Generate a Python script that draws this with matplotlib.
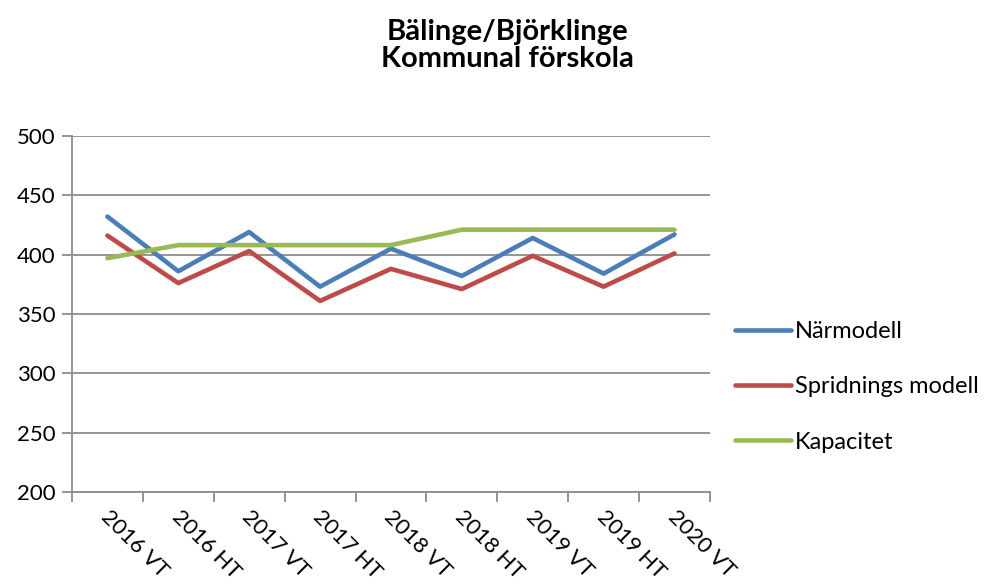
import matplotlib.pyplot as plt
import numpy as np

plt.rcParams['font.family'] = ['Lato', 'DejaVu Sans']

# data
terminer = ['2016 VT', '2016 HT', '2017 VT', '2017 HT', '2018 VT',
            '2018 HT', '2019 VT', '2019 HT', '2020 VT']
narmodell = [432, 386, 419, 373, 405, 382, 414, 384, 417]
spridning = [416, 376, 403, 361, 388, 371, 399, 373, 401]
kapacitet = [397, 408, 408, 408, 408, 421, 421, 421, 421]

serier = [
    ('Närmodell', narmodell, '#4A7EBB'),
    ('Spridnings modell', spridning, '#BE4B48'),
    ('Kapacitet', kapacitet, '#98B954'),
]

fig = plt.figure(figsize=(9.86, 5.88), dpi=100)
ax = fig.add_axes([0.073, 0.163, 0.647, 0.606])

x = np.arange(len(terminer))
for namn, varden, farg in serier:
    ax.plot(x, varden, color=farg, linewidth=3.3, label=namn,
            solid_capstyle='round', solid_joinstyle='round')

ax.set_xlim(-0.5, len(terminer) - 0.5)
ax.set_ylim(200, 500)
ax.set_yticks(np.arange(200, 501, 50))
ax.yaxis.grid(True, color='#8c8c8c', linewidth=1.3)
ax.set_axisbelow(True)

for s in ['top', 'right']:
    ax.spines[s].set_visible(False)
for s in ['left', 'bottom']:
    ax.spines[s].set_color('#8c8c8c')
    ax.spines[s].set_linewidth(1.3)

# tick marks at category borders, labels at the centres
ax.set_xticks(np.arange(len(terminer) + 1) - 0.5)
ax.set_xticklabels([])
ax.tick_params(axis='x', length=7, color='#8c8c8c', width=1.3)
ax.tick_params(axis='y', length=7, color='#8c8c8c', width=1.3,
               labelsize=16, pad=5)
for i, t in enumerate(terminer):
    ax.text(i + 0.05, 188, t, rotation=-45, ha='left', va='top',
            rotation_mode='anchor', fontsize=16, clip_on=False)

fig.text(0.515, 0.968, 'Bälinge/Björklinge\nKommunal förskola',
         ha='center', va='top', fontsize=21, fontweight='bold',
         linespacing=1.05)

fig.legend(loc='center left', bbox_to_anchor=(0.745, 0.342), frameon=False,
           fontsize=17, handlelength=2.4, handletextpad=0.15,
           labelspacing=1.45, borderpad=0, borderaxespad=0)

fig.savefig('out.png', dpi=100)
